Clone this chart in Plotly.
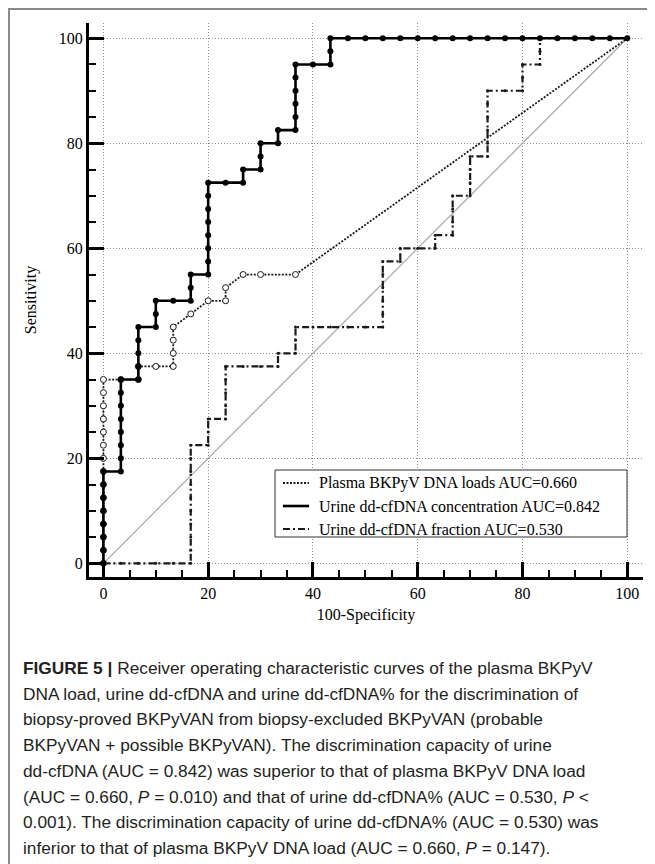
import plotly.graph_objects as go

# ---------------- data ----------------
spec_conc = [0, 0, 0, 0, 0, 0, 0, 0,
             3.33, 3.33, 3.33, 3.33, 3.33, 3.33, 3.33, 3.33,
             6.67, 6.67, 6.67, 6.67, 6.67,
             10, 10, 10,
             13.33, 16.67, 16.67, 16.67,
             20, 20, 20, 20, 20, 20, 20, 20,
             23.33, 26.67, 26.67,
             30, 30, 30,
             33.33, 33.33,
             36.67, 36.67, 36.67, 36.67, 36.67, 36.67,
             40, 43.33, 43.33, 43.33,
             46.67, 50, 53.33, 56.67, 60, 63.33, 66.67, 70, 73.33, 76.67,
             80, 83.33, 86.67, 90, 93.33, 96.67, 100]
sens_conc = [0, 2.5, 5, 7.5, 10, 12.5, 15, 17.5,
             17.5, 20, 22.5, 25, 27.5, 30, 32.5, 35,
             35, 37.5, 40, 42.5, 45,
             45, 47.5, 50,
             50, 50, 52.5, 55,
             55, 57.5, 60, 62.5, 65, 67.5, 70, 72.5,
             72.5, 72.5, 75,
             75, 77.5, 80,
             80, 82.5,
             82.5, 85, 87.5, 90, 92.5, 95,
             95, 95, 97.5, 100,
             100, 100, 100, 100, 100, 100, 100, 100, 100, 100,
             100, 100, 100, 100, 100, 100, 100]

spec_plasma = [0, 0, 0, 0, 0, 0, 0, 0, 0, 0, 0, 0, 0, 0, 0,
               3.33, 6.67, 6.67, 10, 13.33, 13.33, 13.33, 13.33, 16.67, 20,
               23.33, 23.33, 26.67, 30, 36.67, 100]
sens_plasma = [0, 2.5, 5, 7.5, 10, 12.5, 15, 17.5, 20, 22.5, 25, 27.5, 30, 32.5, 35,
               35, 35, 37.5, 37.5, 37.5, 40, 42.5, 45, 47.5, 50,
               50, 52.5, 55, 55, 55, 100]

spec_frac = [0, 3.33, 6.67, 10, 13.33, 16.67, 16.67, 16.67, 16.67, 16.67, 16.67, 16.67, 16.67, 16.67, 16.67,
             20, 20, 20,
             23.33, 23.33, 23.33, 23.33, 23.33,
             26.67, 30, 33.33, 33.33,
             36.67, 36.67, 36.67,
             40, 43.33, 46.67, 50, 53.33, 53.33, 53.33, 53.33, 53.33, 53.33,
             56.67, 56.67,
             60, 63.33, 63.33,
             66.67, 66.67, 66.67, 66.67,
             70, 70, 70, 70,
             73.33, 73.33, 73.33, 73.33, 73.33, 73.33,
             76.67, 80, 80, 80,
             83.33, 83.33, 83.33,
             86.67, 90, 93.33, 96.67, 100]
sens_frac = [0, 0, 0, 0, 0, 0, 2.5, 5, 7.5, 10, 12.5, 15, 17.5, 20, 22.5,
             22.5, 25, 27.5,
             27.5, 30, 32.5, 35, 37.5,
             37.5, 37.5, 37.5, 40,
             40, 42.5, 45,
             45, 45, 45, 45, 45, 47.5, 50, 52.5, 55, 57.5,
             57.5, 60,
             60, 60, 62.5,
             62.5, 65, 67.5, 70,
             70, 72.5, 75, 77.5,
             77.5, 80, 82.5, 85, 87.5, 90,
             90, 90, 92.5, 95,
             95, 97.5, 100,
             100, 100, 100, 100, 100]

ref_x = [0, 100]
ref_y = [0, 100]

legend_names = ["Plasma BKPyV DNA loads AUC=0.660",
                "Urine dd-cfDNA concentration AUC=0.842",
                "Urine dd-cfDNA fraction AUC=0.530"]
tick_vals = [0, 20, 40, 60, 80, 100]
x_title = "100-Specificity"
y_title = "Sensitivity"

caption_lines = [
    "<b>FIGURE 5 |</b> Receiver operating characteristic curves of the plasma BKPyV",
    "DNA load, urine dd-cfDNA and urine dd-cfDNA% for the discrimination of",
    "biopsy-proved BKPyVAN from biopsy-excluded BKPyVAN (probable",
    "BKPyVAN + possible BKPyVAN). The discrimination capacity of urine",
    "dd-cfDNA (AUC = 0.842) was superior to that of plasma BKPyV DNA load",
    "(AUC = 0.660, <i>P</i> = 0.010) and that of urine dd-cfDNA% (AUC = 0.530, <i>P</i> &lt;",
    "0.001). The discrimination capacity of urine dd-cfDNA% (AUC = 0.530) was",
    "inferior to that of plasma BKPyV DNA load (AUC = 0.660, <i>P</i> = 0.147).",
]

# ---------------- layout geometry ----------------
# the page body adds an 8px offset; all screen coordinates below are compensated
OFF = 8
W, H = 655, 864
PLOT_L, PLOT_R, PLOT_T, PLOT_B = 89, 643, 23, 577   # target screen pixels
ML, MR = PLOT_L - OFF, W - (PLOT_R - OFF)
MT, MB = PLOT_T - OFF, H - (PLOT_B - OFF)
PW = W - ML - MR
PH = H - MT - MB


def px_to_paper_x(px):
    return (px - OFF - ML) / PW


def px_to_paper_y(py):
    return (H - MB - (py - OFF)) / PH


SERIF = "Liberation Serif, Times New Roman, serif"
SANS = "Liberation Sans, Arial, sans-serif"
INK = "#1a1a1a"

line_styles = [
    dict(color=INK, width=1.8, dash="2px,1.5px"),          # plasma
    dict(color="black", width=2.6),                          # concentration
    dict(color=INK, width=2.2, dash="7px,3px,2px,3px"),     # fraction
]

fig = go.Figure()

# diagonal reference
fig.add_trace(go.Scatter(x=ref_x, y=ref_y, mode="lines",
                         line=dict(color="#a8a8a8", width=1.2),
                         showlegend=False, hoverinfo="skip"))

# fraction (dash-dot)
fig.add_trace(go.Scatter(x=spec_frac, y=sens_frac, mode="lines",
                         line=line_styles[2], name=legend_names[2], showlegend=False))
fig.add_trace(go.Scatter(x=spec_frac, y=sens_frac, mode="markers",
                         marker=dict(color=INK, size=3), showlegend=False))

# plasma (dotted, open circles)
fig.add_trace(go.Scatter(x=spec_plasma, y=sens_plasma, mode="lines",
                         line=line_styles[0], name=legend_names[0], showlegend=False))
fig.add_trace(go.Scatter(x=spec_plasma[:-1], y=sens_plasma[:-1], mode="markers",
                         marker=dict(color="white", size=6,
                                     line=dict(color=INK, width=1)),
                         showlegend=False))

# concentration (solid, filled dots)
fig.add_trace(go.Scatter(x=spec_conc, y=sens_conc, mode="lines",
                         line=line_styles[1], name=legend_names[1], showlegend=False))
fig.add_trace(go.Scatter(x=spec_conc, y=sens_conc, mode="markers",
                         marker=dict(color="black", size=6), showlegend=False))

axis_common = dict(
    tickvals=tick_vals,
    ticks="inside", ticklen=15, tickwidth=2.5, tickcolor="black",
    minor=dict(dtick=5, tick0=0, ticks="inside", ticklen=7, tickwidth=2,
               tickcolor="black", showgrid=False),
    showline=True, linecolor="black", linewidth=3,
    showgrid=True, gridcolor="#8c8c8c", gridwidth=1, griddash="1px,2px",
    zeroline=False, automargin=False,
    tickfont=dict(family=SERIF, size=16, color="black"),
)

fig.update_xaxes(range=[-2.75, 103], title=dict(text=x_title, standoff=8,
                 font=dict(family=SERIF, size=16, color="black")), **axis_common)
fig.update_yaxes(range=[-2.6, 102.9], title=dict(text=y_title, standoff=19,
                 font=dict(family=SERIF, size=16, color="black")), **axis_common)

annotations = []
shapes = []

# caption
first_line_y = 668
line_step = 25.7
for i, line in enumerate(caption_lines):
    annotations.append(dict(
        text=line, xref="paper", yref="paper",
        x=px_to_paper_x(21), y=px_to_paper_y(first_line_y + i * line_step),
        xanchor="left", yanchor="middle", showarrow=False, align="left",
        font=dict(family=SANS, size=17.3, color="#231f20")))

# legend box (drawn by hand to match the original's compact layout)
shapes.append(dict(type="rect", xref="paper", yref="paper",
                   x0=px_to_paper_x(275), x1=px_to_paper_x(627),
                   y0=px_to_paper_y(537), y1=px_to_paper_y(470),
                   line=dict(color="#333", width=1), fillcolor="white", layer="above"))
legend_rows = [483, 506, 529]
for name, style, ry in zip(legend_names, line_styles, legend_rows):
    shapes.append(dict(type="line", xref="paper", yref="paper",
                       x0=px_to_paper_x(283), x1=px_to_paper_x(309),
                       y0=px_to_paper_y(ry), y1=px_to_paper_y(ry),
                       line=dict(color=style["color"], width=style["width"],
                                 dash=style.get("dash", "solid")),
                       layer="above"))
    annotations.append(dict(text=name, xref="paper", yref="paper",
                            x=px_to_paper_x(317), y=px_to_paper_y(ry),
                            xanchor="left", yanchor="middle", showarrow=False,
                            font=dict(family=SERIF, size=16, color="black")))

# outer figure frame (as close to the page corner as the figure allows)
shapes.append(dict(type="rect", xref="paper", yref="paper",
                   x0=px_to_paper_x(9), x1=px_to_paper_x(720),
                   y0=px_to_paper_y(920), y1=px_to_paper_y(9),
                   line=dict(color="#8a8a8a", width=2), fillcolor="rgba(0,0,0,0)",
                   layer="below"))

fig.update_layout(
    width=W, height=H,
    margin=dict(l=ML, r=MR, t=MT, b=MB),
    paper_bgcolor="white", plot_bgcolor="white",
    showlegend=False,
    annotations=annotations,
    shapes=shapes,
)

fig.write_html("out.html")
